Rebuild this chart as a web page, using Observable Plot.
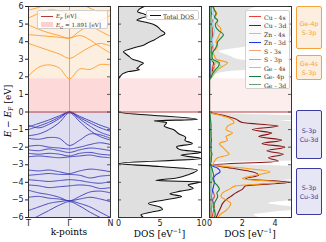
<!DOCTYPE html>
<html><head><meta charset="utf-8">
<script src="https://cdn.jsdelivr.net/npm/d3@7"></script>
<script src="https://cdn.jsdelivr.net/npm/@observablehq/plot@0.6"></script>
<style>
body{margin:0;background:#fff;}
#chart{position:relative;width:326px;height:242px;overflow:hidden;font-family:"DejaVu Sans";}
#chart svg{position:absolute;top:0;}
.t{position:absolute;white-space:nowrap;line-height:1;}
.serif{font-family:"DejaVu Serif";}
.box{position:absolute;box-sizing:border-box;border-radius:2px;font-family:"DejaVu Sans";font-size:6.3px;text-align:center;display:flex;flex-direction:column;justify-content:center;line-height:9px;}
.leg{position:absolute;box-sizing:border-box;background:rgba(255,255,255,0.8);border:1px solid #d0d0d0;border-radius:2px;}
.row{position:absolute;left:0;height:8px;font-family:"DejaVu Serif";font-size:6.1px;color:#333;white-space:nowrap;}
.sw{position:absolute;top:3.5px;height:1.2px;}
</style></head><body><div id="chart"></div>
<script>
// ---------- data ----------
const yLimits = [-6, 6];
const yTicks = [-6,-5,-4,-3,-2,-1,0,1,2,3,4,5,6];
const Ef = 0;
const Eg = 1.891;
const kTicks = [0, 1, 2];
const kLabels = ["T", "Γ", "N"];
const bandK = [0, 0.25, 0.5, 0.75, 1, 1.25, 1.5, 1.75, 2];
const conductionBands = [
  [2.05, 2.55, 2.68, 2.5, 1.891, 2.45, 2.42, 2.7, 2.67],
  [3.9, 3.7, 3.5, 3.3, 3.05, 3.35, 3.7, 3.9, 3.75],
  [4.4, 4.35, 4.3, 4.25, 4.2, 4.35, 4.1, 3.7, 3.35],
  [4.95, 4.7, 4.5, 4.35, 4.2, 4.6, 4.9, 4.6, 4.3],
  [5.35, 5.6, 5.8, 5.75, 5.55, 5.3, 5.05, 5.2, 5.5],
  [5.8, 5.95, 6.2, 6.3, 6.4, 6.2, 5.9, 5.7, 5.8]
];
const valenceBands = [
  [-0.85, -0.65, -0.45, -0.22, 0, -0.25, -0.5, -0.75, -0.95],
  [-1.0, -0.8, -0.58, -0.3, 0, -0.32, -0.62, -0.9, -1.1],
  [-0.75, -0.9, -0.7, -0.38, -0.01, -0.4, -0.8, -1.15, -1.35],
  [-1.35, -1.25, -1.0, -0.6, -0.05, -0.55, -1.05, -1.4, -1.6],
  [-1.5, -1.55, -1.45, -1.5, -1.9, -1.6, -1.25, -1.3, -1.5],
  [-1.95, -1.9, -2.0, -2.05, -2.1, -2.0, -1.85, -1.75, -1.85],
  [-2.15, -2.2, -2.1, -2.2, -2.3, -2.15, -2.05, -2.1, -2.2],
  [-2.35, -2.4, -2.35, -2.4, -2.5, -2.35, -2.3, -2.4, -2.45],
  [-2.55, -2.5, -2.55, -2.6, -2.55, -2.5, -2.45, -2.55, -2.6],
  [-3.3, -3.35, -3.3, -3.4, -3.5, -3.35, -3.25, -3.3, -3.4],
  [-3.6, -3.55, -3.5, -3.55, -3.55, -3.6, -3.75, -3.65, -3.6],
  [-3.85, -3.9, -3.95, -3.9, -3.85, -3.9, -4.0, -4.05, -3.95],
  [-4.15, -4.2, -4.3, -4.25, -4.2, -4.15, -4.2, -4.35, -4.3],
  [-4.45, -4.6, -4.7, -4.85, -5.05, -4.8, -4.55, -4.5, -4.6],
  [-4.85, -4.8, -4.9, -4.95, -5.05, -4.95, -4.85, -4.95, -5.1],
  [-5.6, -5.4, -5.2, -5.1, -5.05, -5.2, -5.4, -5.7, -6.0],
  [-6.2, -5.9, -5.6, -5.3, -5.1, -5.35, -5.7, -6.0, -6.3]
];
const tdosE = [6.0,5.85,5.7,5.55,5.45,5.35,5.23,5.1,5.0,4.85,4.66,4.47,4.3,4.1,3.95,3.8,3.6,3.43,3.3,3.15,3.0,2.9,2.77,2.65,2.55,2.48,2.4,2.3,2.2,2.05,1.92,1.85,0.0,-0.42,-0.5,-0.6,-0.8,-1.0,-1.25,-1.45,-1.6,-1.8,-1.97,-2.15,-2.3,-2.45,-2.65,-2.92,-3.1,-3.3,-3.55,-3.75,-3.9,-3.97,-4.15,-4.35,-4.5,-4.65,-4.8,-5.0,-5.2,-5.4,-5.55,-5.7,-5.85,-6.0];
const tdosV = [3.1,2.5,2.3,3.2,3.5,2.8,2.2,3.3,4.1,4.7,5.1,5.6,5.0,4.3,3.6,3.0,1.5,0.6,0.9,1.3,1.7,2.4,3.0,2.6,2.4,2.2,2.5,1.2,0.6,0.25,0.05,0,0,9.5,4.3,5.8,5.5,6.6,7.3,8.1,8.0,8.9,7.0,7.5,10.0,7.5,10.0,0.0,5.0,9.5,8.5,7.0,4.5,9.9,8.4,9.0,7.5,6.2,7.6,5.5,3.6,5.0,5.3,3.9,2.7,3.0];
const dosTicks2 = [0, 5, 10];
const dosTicks3 = [0, 2, 4];
const pdosE = [-6.0,-5.8,-5.6,-5.4,-5.2,-5.0,-4.8,-4.6,-4.4,-4.2,-4.0,-3.8,-3.6,-3.4,-3.2,-3.0,-2.8,-2.6,-2.4,-2.2,-2.0,-1.8,-1.6,-1.4,-1.2,-1.0,-0.8,-0.6,-0.4,-0.2,0.0,1.8,2.0,2.2,2.4,2.6,2.8,3.0,3.2,3.4,3.6,3.8,4.0,4.2,4.4,4.6,4.8,5.0,5.2,5.4,5.6,5.8,6.0];
const cu4s = [0.15,0.2,0.25,0.3,0.25,0.2,0.3,0.25,0.15,0.1,0.1,0.08,0.1,0.12,0.08,0.02,0.05,0.05,0.06,0.05,0.04,0.05,0.04,0.05,0.04,0.03,0.04,0.03,0.02,0.02,0, 0,0.05,0.1,0.15,0.2,0.25,0.15,0.1,0.12,0.15,0.2,0.15,0.1,0.12,0.15,0.12,0.1,0.12,0.1,0.12,0.1,0.1];
const cu3d = [0.4,0.5,0.6,0.7,0.8,1.0,1.3,1.6,2.0,2.2,4.9,2.2,3.0,2.6,1.4,0.2,4.2,3.6,4.5,3.5,4.6,3.2,4.4,3.0,3.8,2.6,4.2,2.0,1.6,0.9,0, 0,0.05,0.1,0.2,0.3,0.25,0.1,0.08,0.05,0.1,0.15,0.12,0.15,0.2,0.18,0.15,0.12,0.15,0.1,0.12,0.1,0.1];
const zn4s = [0.05,0.04,0.05,0.06,0.05,0.04,0.05,0.06,0.05,0.04,0.05,0.04,0.03,0.04,0.03,0.02,0.02,0.03,0.02,0.02,0.03,0.02,0.02,0.02,0.02,0.02,0.01,0.02,0.01,0.01,0, 0,0.08,0.12,0.1,0.08,0.06,0.1,0.15,0.2,0.25,0.2,0.15,0.2,0.25,0.3,0.25,0.2,0.25,0.3,0.2,0.25,0.2];
const zn3d = [0.08,0.08,0.1,0.12,0.15,0.15,0.12,0.15,0.2,0.25,0.3,0.25,0.35,0.65,0.5,0.05,0.08,0.1,0.08,0.06,0.05,0.06,0.05,0.05,0.04,0.05,0.04,0.04,0.03,0.02,0, 0,0.02,0.03,0.04,0.05,0.04,0.03,0.03,0.04,0.05,0.04,0.05,0.06,0.05,0.05,0.06,0.05,0.06,0.05,0.05,0.06,0.05];
const s3s = [0.05,0.06,0.08,0.1,0.08,0.06,0.08,0.1,0.12,0.1,0.15,0.08,0.1,0.12,0.08,0.02,0.04,0.05,0.06,0.05,0.04,0.03,0.04,0.05,0.04,0.03,0.04,0.03,0.02,0.01,0, 0,0.1,0.2,0.25,0.3,0.35,0.15,0.08,0.06,0.08,0.1,0.12,0.1,0.12,0.15,0.12,0.1,0.12,0.1,0.08,0.1,0.08];
const s3p = [0.5,0.7,1.0,1.2,1.3,1.0,0.7,0.8,1.2,1.6,4.3,2.0,2.8,3.7,2.2,0.2,0.3,0.5,1.2,1.0,0.8,0.6,1.1,1.0,1.4,1.0,1.1,1.5,1.3,0.7,0, 0,0.15,0.3,0.5,0.8,1.1,0.4,0.3,0.2,0.4,0.5,0.4,0.5,0.6,0.7,0.65,0.45,0.5,0.35,0.45,0.3,0.25];
const ge4s = [0.3,0.25,0.35,0.2,0.15,0.1,0.08,0.1,0.12,0.1,0.05,0.05,0.04,0.05,0.03,0.02,0.03,0.03,0.04,0.03,0.03,0.02,0.03,0.03,0.02,0.02,0.03,0.02,0.02,0.01,0, 0,0.15,0.3,0.5,0.7,0.45,0.1,0.08,0.05,0.05,0.08,0.06,0.05,0.07,0.06,0.05,0.08,0.06,0.05,0.06,0.05,0.05];
const ge4p = [0.3,0.35,0.3,0.25,0.3,0.4,0.5,0.45,0.6,0.5,0.3,0.2,0.25,0.2,0.15,0.05,0.1,0.1,0.15,0.1,0.1,0.1,0.12,0.1,0.1,0.08,0.1,0.08,0.06,0.04,0, 0,0.1,0.2,0.35,0.55,0.6,0.2,0.15,0.2,0.35,0.45,0.5,0.7,0.85,0.6,0.4,0.35,0.5,0.3,0.4,0.3,0.2];
const ge3d = [0.02,0.02,0.03,0.02,0.02,0.03,0.02,0.02,0.03,0.02,0.02,0.02,0.03,0.02,0.02,0.01,0.02,0.02,0.02,0.02,0.02,0.02,0.02,0.02,0.01,0.02,0.01,0.01,0.01,0.01,0, 0,0.02,0.03,0.03,0.04,0.03,0.03,0.03,0.04,0.03,0.03,0.04,0.03,0.03,0.04,0.03,0.03,0.04,0.03,0.03,0.03,0.03];
const pdosNames = ["Cu - 4s","Cu - 3d","Zn - 4s","Zn - 3d","S - 3s","S - 3p","Ge - 4s","Ge- 4p","Ge - 3d"];
const pdosColors = ["#e8413c","#8b1515","#8ecff5","#2233ee","#f2a77a","#ff9a14","#8fde8f","#18803a","#6f9a78"];
const boxLabels = [["Ge-4p","S-3p"],["Ge-4s","S-3p"],["S-3p","Cu-3d"],["S-3p","Cu-3d"]];

// ---------- helpers ----------
const fmt = d => d < 0 ? "\u2212" + Math.abs(d) : String(d);
const H = 242, MT = 6, MB = 25;
const chart = document.getElementById("chart");
const baseStyle = {background: "transparent", overflow: "visible", fontFamily: "DejaVu Sans", fontSize: "8px", color: "#222"};
const bandRows = (bands, tag) => bands.flatMap((b, i) => b.map((E, j) => ({band: tag + i, k: bandK[j], E})));
const tdos = tdosE.map((E, i) => ({E, v: tdosV[i]}));
const pdosSeries = [cu4s, cu3d, zn4s, zn3d, s3s, s3p, ge4s, ge4p, ge3d];
const pdosRows = pdosSeries.flatMap((s, i) => s.map((v, j) => ({orb: pdosNames[i], E: pdosE[j], v})));
const sideTicks = (pw, side) => Plot.tickY(yTicks, {y: d => d, stroke: "#333", strokeWidth: 0.8, insetLeft: side === "right" ? pw - 3 : 0, insetRight: side === "left" ? pw - 3 : 0});

function place(svg, left) { svg.style.left = left + "px"; chart.appendChild(svg); }

// ---------- panel 1: bands ----------
{
  const W = 112, ML = 28, MR = 2, pw = W - ML - MR;
  const svg = Plot.plot({
    width: W, height: H, marginLeft: ML, marginRight: MR, marginTop: MT, marginBottom: MB,
    style: baseStyle,
    x: {domain: [kTicks[0], kTicks[kTicks.length - 1]]},
    y: {domain: yLimits},
    marks: [
      Plot.rect([{y1: Eg, y2: yLimits[1]}], {y1: "y1", y2: "y2", fill: "#fdefdf"}),
      Plot.rect([{y1: Ef, y2: Eg}], {y1: "y1", y2: "y2", fill: "#fdd9d9"}),
      Plot.rect([{y1: yLimits[0], y2: Ef}], {y1: "y1", y2: "y2", fill: "#dfdff1"}),
      Plot.ruleX([kTicks[1]], {stroke: "#a8a8a8", strokeWidth: 0.9}),
      Plot.line(bandRows(conductionBands, "c"), {x: "k", y: "E", z: "band", stroke: "#ff9c28", strokeWidth: 0.9, curve: "catmull-rom", clip: true}),
      Plot.line(bandRows(valenceBands, "v"), {x: "k", y: "E", z: "band", stroke: "#3434b4", strokeWidth: 0.9, strokeDasharray: "1.1,0.8", curve: "catmull-rom", clip: true}),
      Plot.ruleY([Ef], {stroke: "#b03a3a", strokeWidth: 1}),
      sideTicks(pw, "right"),
      Plot.frame({stroke: "#222", strokeWidth: 0.9}),
      Plot.axisY({ticks: yTicks, tickSize: 3, tickPadding: 2, tickFormat: fmt, label: null, fontSize: 8}),
      Plot.axisX({ticks: kTicks, tickSize: 0, tickPadding: 3, tickFormat: (d, i) => kLabels[i], label: null, fontSize: 8})
    ]
  });
  place(svg, 0);
}

// ---------- panel 2: total DOS ----------
{
  const W = 92, ML = 6, MR = 3, pw = W - ML - MR;
  const svg = Plot.plot({
    width: W, height: H, marginLeft: ML, marginRight: MR, marginTop: MT, marginBottom: MB,
    style: baseStyle,
    x: {domain: [dosTicks2[0], dosTicks2[dosTicks2.length - 1]]},
    y: {domain: yLimits, axis: null},
    marks: [
      Plot.areaX(tdos, {y: "E", x: "v", fill: "#dfdfdf", curve: "monotone-y", clip: true}),
      Plot.rect([{y1: Ef, y2: Eg}], {y1: "y1", y2: "y2", fill: "#fde3e3"}),
      Plot.ruleY([Ef], {stroke: "#b03a3a", strokeWidth: 1}),
      Plot.lineX(tdos, {y: "E", x: "v", stroke: "#111", strokeWidth: 1.1, curve: "monotone-y", clip: true}),
      sideTicks(pw, "left"), sideTicks(pw, "right"),
      Plot.frame({stroke: "#222", strokeWidth: 0.9}),
      Plot.axisX({ticks: dosTicks2, tickSize: 0, tickPadding: 3, tickFormat: d => String(d), label: null, fontSize: 8})
    ]
  });
  place(svg, 112);
}

// ---------- panel 3: projected DOS ----------
{
  const W = 90, ML = 5, MR = 3, pw = W - ML - MR;
  const svg = Plot.plot({
    width: W, height: H, marginLeft: ML, marginRight: MR, marginTop: MT, marginBottom: MB,
    style: baseStyle,
    x: {domain: [0, 5]},
    y: {domain: yLimits, axis: null},
    color: {domain: pdosNames, range: pdosColors},
    marks: [
      Plot.areaX(tdos, {y: "E", x: "v", fill: "#e3e3e3", curve: "monotone-y", clip: true}),
      Plot.rect([{y1: Ef, y2: Eg}], {y1: "y1", y2: "y2", fill: "#fdeeee"}),
      Plot.ruleY([Ef], {stroke: "#b03a3a", strokeWidth: 1}),
      Plot.lineX(pdosRows, {y: "E", x: "v", stroke: "orb", strokeWidth: 1.1, curve: "monotone-y", clip: true}),
      sideTicks(pw, "left"), sideTicks(pw, "right"),
      Plot.frame({stroke: "#222", strokeWidth: 0.9}),
      Plot.axisX({ticks: dosTicks3, tickSize: 0, tickPadding: 3, tickFormat: d => String(d), label: null, fontSize: 8})
    ]
  });
  place(svg, 204);
}

// ---------- text & legends (HTML) ----------
function add(html) { chart.insertAdjacentHTML("beforeend", html); }
add(`<div class="t serif" style="left:8px;top:111px;font-size:9px;transform:translate(-50%,-50%) rotate(-90deg);"><i>E</i> \u2212 <i>E</i><span style="font-size:6.5px;position:relative;top:2px">F</span> [eV]</div>`);
add(`<div class="t serif" style="left:69px;top:228px;font-size:9px;transform:translateX(-50%);">k-points</div>`);
add(`<div class="t serif" style="left:159.5px;top:228px;font-size:9px;transform:translateX(-50%);">DOS [eV<sup style="font-size:6px">\u22121</sup>]</div>`);
add(`<div class="t serif" style="left:250px;top:228px;font-size:9px;transform:translateX(-50%);">DOS [eV<sup style="font-size:6px">\u22121</sup>]</div>`);

// panel 1 legend
add(`<div class="leg" style="left:37px;top:10px;width:71px;height:19px;">
  <div class="row" style="top:1px;font-size:5.6px;"><span class="sw" style="left:3px;width:12px;background:#b03a3a"></span><span style="position:absolute;left:18px;top:1px"><i>E<sub style="font-size:4px">F</sub></i> [eV]</span></div>
  <div class="row" style="top:9.5px;font-size:5.6px;"><span style="position:absolute;left:3px;top:1.5px;width:12px;height:5px;background:#fdd0d0"></span><span style="position:absolute;left:18px;top:1px"><i>E<sub style="font-size:4px">G</sub></i> = 1.891 [eV]</span></div>
</div>`);
// panel 2 legend
add(`<div class="leg" style="left:146px;top:10px;width:53px;height:10px;">
  <div class="row" style="top:0.5px;"><span class="sw" style="left:3px;width:11px;background:#111"></span><span style="position:absolute;left:16px;top:1px">Total DOS</span></div>
</div>`);
// panel 3 legend
{
  let rows = "";
  pdosNames.forEach((n, i) => {
    rows += `<div class="row" style="top:${1.5 + i * 8.5}px;"><span class="sw" style="left:3px;width:12px;background:${pdosColors[i]}"></span><span style="position:absolute;left:18px;top:1px">${n}</span></div>`;
  });
  add(`<div class="leg" style="left:245px;top:10px;width:45px;height:79px;">${rows}</div>`);
}
// right-hand annotation boxes
{
  const specs = [
    {top: 6, h: 43, col: "#f5a33a", bg: "#fdefe0"},
    {top: 55, h: 25, col: "#f5a33a", bg: "#fdefe0"},
    {top: 110, h: 49, col: "#3a3aa0", bg: "#e6e6f5"},
    {top: 168, h: 47, col: "#3a3aa0", bg: "#e6e6f5"}
  ];
  specs.forEach((s, i) => {
    add(`<div class="box" style="left:296px;top:${s.top}px;width:26px;height:${s.h}px;border:1px solid ${s.col};background:${s.bg};color:${s.col};"><div>${boxLabels[i][0]}</div><div>${boxLabels[i][1]}</div></div>`);
  });
}
</script></body></html>
